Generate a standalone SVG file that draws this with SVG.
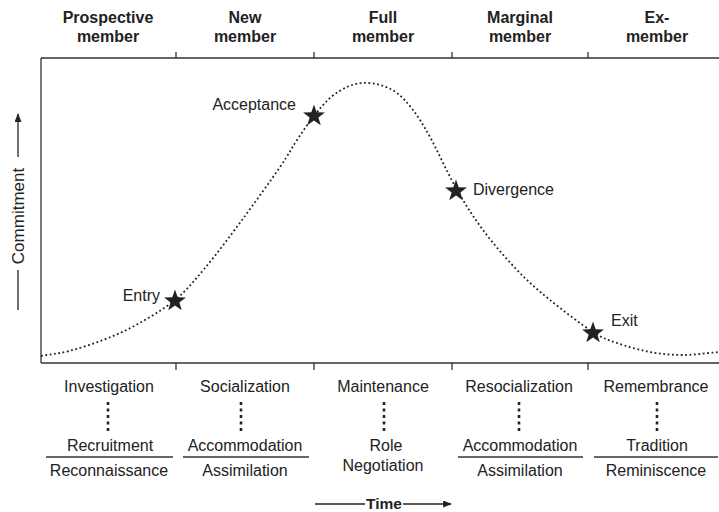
<svg xmlns="http://www.w3.org/2000/svg" width="719" height="512" viewBox="0 0 719 512">
<defs>
<style>
text{font-family:"Liberation Sans",Arial,Helvetica,sans-serif;fill:#222;font-size:16px}
.h{font-weight:bold;text-anchor:middle}
.c{text-anchor:middle}
.ax{stroke:#333;stroke-width:1.3;fill:none}
.dots{stroke:#222;stroke-width:2.6;stroke-dasharray:3 3.5}
.curve{fill:none;stroke:#222;stroke-width:1.8;stroke-dasharray:1.8 2.6}
.star{fill:#222}
.arr{stroke:#222;stroke-width:1.3;fill:none}
</style>
<polygon id="star" points="0,-11.5 2.7,-3.72 10.94,-3.55 4.37,1.42 6.76,9.3 0,4.6 -6.76,9.3 -4.37,1.42 -10.94,-3.55 -2.7,-3.72"/>
<marker id="ah" viewBox="0 0 10 8" refX="9" refY="4" markerWidth="10" markerHeight="7" orient="auto" markerUnits="userSpaceOnUse">
<path d="M0,0 L10,4 L0,8 z" fill="#222"/>
</marker>
</defs>
<rect width="719" height="512" fill="#fff"/>

<g id="frame">
<path class="ax" d="M41,58 H719 M41,58 V363 M41,363 H719"/>
<path class="ax" d="M176,52 V58 M314,52 V58 M452,52 V58 M588,52 V58"/>
<path class="ax" d="M176,363 V370 M314,363 V370 M452,363 V370 M588,363 V370"/>
</g>

<g id="axis-commitment">
<line class="arr" x1="18" y1="157" x2="18" y2="114" marker-end="url(#ah)"/>
<line class="arr" x1="18" y1="270" x2="18" y2="310"/>
<text class="c" transform="translate(23.5,216) rotate(-90)" style="font-size:17px">Commitment</text>
</g>

<g id="axis-time">
<line class="arr" x1="315" y1="504" x2="365" y2="504"/>
<text class="h" x="384" y="509" style="font-size:15.5px">Time</text>
<line class="arr" x1="403" y1="504" x2="451" y2="504" marker-end="url(#ah)"/>
</g>

<g id="stage-prospective"><text class="h" x="108" y="23">Prospective</text><text class="h" x="108" y="42">member</text></g>
<g id="stage-new"><text class="h" x="245" y="23">New</text><text class="h" x="245" y="42">member</text></g>
<g id="stage-full"><text class="h" x="383" y="23">Full</text><text class="h" x="383" y="42">member</text></g>
<g id="stage-marginal"><text class="h" x="520" y="23">Marginal</text><text class="h" x="520" y="42">member</text></g>
<g id="stage-ex"><text class="h" x="657" y="23">Ex-</text><text class="h" x="657" y="42">member</text></g>

<g id="connectors">
<path class="curve" d="M41,356 C50.3,354.3 58.7,353.7 69,351 C79.3,348.3 91.8,344.3 103,340 C114.2,335.7 124,331.7 136,325 C148,318.3 163.5,309.5 175,300 C186.5,290.5 193.8,281.3 205,268 C216.2,254.7 229.5,236.8 242,220 C254.5,203.2 270.8,180.3 280,167 C289.2,153.7 291.3,148.5 297,140 C302.7,131.5 308.5,123 314,116 C319.5,109 324.5,102.8 330,98 C335.5,93.2 341.5,89.5 347,87 C352.5,84.5 357.5,83.3 363,83 C368.5,82.7 374.3,83.3 380,85 C385.7,86.7 391.5,88.8 397,93 C402.5,97.2 407.5,102.7 413,110 C418.5,117.3 422.8,124 430,137 C437.2,150 447.2,172.5 456,188 C464.8,203.5 472.8,216.3 483,230 C493.2,243.7 505.8,258.3 517,270 C528.2,281.7 537.3,289.7 550,300 C562.7,310.3 581.8,324.8 593,332 C604.2,339.2 607.5,339.7 617,343 C626.5,346.3 639,350 650,352 C661,354 671.5,355 683,355 C694.5,355 707,353 719,352"/>
</g>

<g id="event-entry"><use href="#star" class="star" x="175" y="301"/><text x="160" y="301" text-anchor="end">Entry</text></g>
<g id="event-acceptance"><use href="#star" class="star" x="314" y="116"/><text x="296" y="110" text-anchor="end">Acceptance</text></g>
<g id="event-divergence"><use href="#star" class="star" x="456" y="191"/><text x="473" y="195">Divergence</text></g>
<g id="event-exit"><use href="#star" class="star" x="593" y="333"/><text x="611" y="326">Exit</text></g>

<g id="phase-1">
<text class="c" x="109" y="392">Investigation</text>
<line class="dots" x1="108" y1="402" x2="108" y2="431.5"/>
<text class="c" x="110" y="451">Recruitment</text>
<line class="ax" x1="46" y1="457" x2="173" y2="457"/>
<text class="c" x="109" y="476">Reconnaissance</text>
</g>
<g id="phase-2">
<text class="c" x="245" y="392">Socialization</text>
<line class="dots" x1="241" y1="402" x2="241" y2="431.5"/>
<text class="c" x="245" y="451">Accommodation</text>
<line class="ax" x1="183" y1="457" x2="309" y2="457"/>
<text class="c" x="245" y="476">Assimilation</text>
</g>
<g id="phase-3">
<text class="c" x="383" y="392">Maintenance</text>
<line class="dots" x1="384" y1="402" x2="384" y2="431.5"/>
<text class="c" x="386" y="451">Role</text>
<text class="c" x="383" y="471">Negotiation</text>
</g>
<g id="phase-4">
<text class="c" x="519" y="392">Resocialization</text>
<line class="dots" x1="519" y1="402" x2="519" y2="431.5"/>
<text class="c" x="520" y="451">Accommodation</text>
<line class="ax" x1="458" y1="457" x2="583" y2="457"/>
<text class="c" x="520" y="476">Assimilation</text>
</g>
<g id="phase-5">
<text class="c" x="656" y="392">Remembrance</text>
<line class="dots" x1="657" y1="402" x2="657" y2="431.5"/>
<text class="c" x="657" y="451">Tradition</text>
<line class="ax" x1="594" y1="457" x2="718" y2="457"/>
<text class="c" x="656" y="476">Reminiscence</text>
</g>
</svg>
